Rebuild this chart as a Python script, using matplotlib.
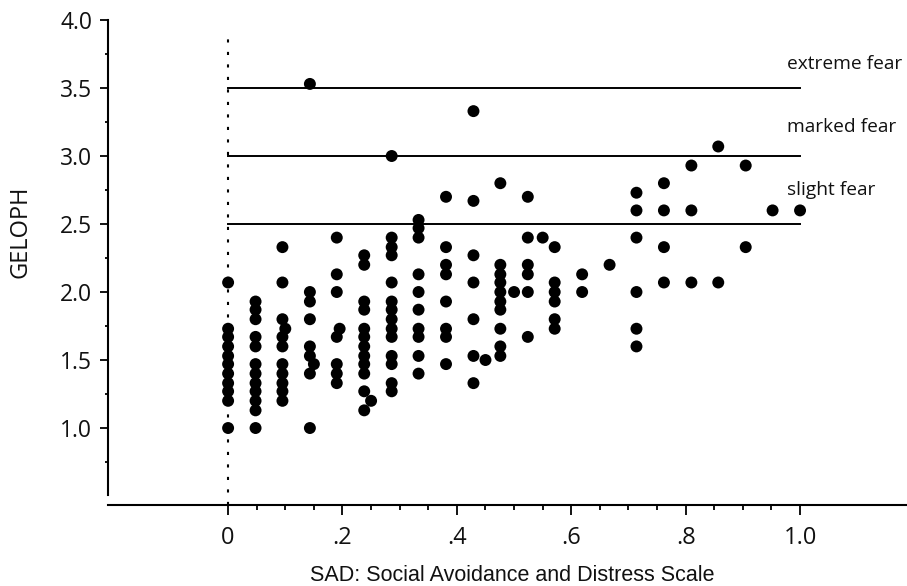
import matplotlib.pyplot as plt
import numpy as np
from matplotlib.ticker import FixedLocator

# SAD score levels (x) and the GELOPH scores found at each level (y)
sad_levels = [0.0, 0.048, 0.095, 0.143, 0.19, 0.238, 0.286, 0.333, 0.381, 0.429, 0.476,
              0.524, 0.571, 0.619, 0.667, 0.714, 0.762, 0.81, 0.857, 0.905, 0.952, 1.0]
geloph_at_level = [
    [2.07, 1.73, 1.67, 1.6, 1.53, 1.47, 1.4, 1.33, 1.27, 1.2, 1.0],
    [1.93, 1.87, 1.8, 1.67, 1.6, 1.47, 1.4, 1.33, 1.27, 1.2, 1.13, 1.0],
    [2.33, 2.07, 1.8, 1.67, 1.6, 1.47, 1.4, 1.33, 1.27, 1.2],
    [3.53, 2.0, 1.93, 1.8, 1.6, 1.53, 1.4, 1.0],
    [2.4, 2.13, 2.0, 1.67, 1.47, 1.4, 1.33],
    [2.27, 2.2, 1.93, 1.87, 1.73, 1.67, 1.6, 1.53, 1.47, 1.4, 1.27, 1.13],
    [3.0, 2.4, 2.33, 2.27, 2.07, 1.93, 1.87, 1.8, 1.73, 1.67, 1.53, 1.47, 1.33, 1.27],
    [2.53, 2.47, 2.4, 2.13, 2.0, 1.87, 1.73, 1.67, 1.53, 1.4],
    [2.7, 2.33, 2.2, 2.13, 1.93, 1.73, 1.67, 1.47],
    [3.33, 2.67, 2.27, 2.07, 1.8, 1.53, 1.33],
    [2.8, 2.2, 2.13, 2.07, 2.0, 1.93, 1.87, 1.73, 1.6, 1.53],
    [2.7, 2.4, 2.2, 2.13, 2.0, 1.67],
    [2.33, 2.07, 2.0, 1.93, 1.8, 1.73],
    [2.13, 2.0],
    [2.2],
    [2.73, 2.6, 2.4, 2.0, 1.73, 1.6],
    [2.8, 2.6, 2.33, 2.07],
    [2.93, 2.6, 2.07],
    [3.07, 2.07],
    [2.93, 2.33],
    [2.6],
    [2.6],
]
# a few points that sit between the regular levels
sad_extra = [0.1, 0.15, 0.195, 0.25, 0.45, 0.5, 0.55]
geloph_extra = [1.73, 1.47, 1.73, 1.2, 1.5, 2.0, 2.4]

fear_levels = [2.5, 3.0, 3.5]
fear_labels = ["slight fear", "marked fear", "extreme fear"]

xs = []
ys = []
for s, vals in zip(sad_levels, geloph_at_level):
    for v in vals:
        xs.append(s)
        ys.append(v)
xs += sad_extra
ys += geloph_extra

tick_font = ["Open Sans", "DejaVu Sans"]
plt.rcParams["font.family"] = ["Liberation Sans", "DejaVu Sans"]

W, H = 907, 586
fig = plt.figure(figsize=(W / 100, H / 100), dpi=100)
# axes box in pixels: left 108, right 907, top 20, bottom 505
ax = fig.add_axes([108 / W, (H - 505) / H, (907 - 108) / W, (505 - 20) / H])
ax.set_xlim(-0.21, 1.187)
ax.set_ylim(0.434, 4.0)

# reference lines
ax.plot([0, 0], [0.434, 3.93], color="black", lw=1.5, dashes=(1.5, 4.5), zorder=1)
label_y = [2.713, 3.176, 3.64]
for lvl, lab, ty in zip(fear_levels, fear_labels, label_y):
    ax.plot([0, 1.0], [lvl, lvl], color="black", lw=1.4, zorder=1)
    ax.text(0.977, ty, lab, fontsize=13.8, ha="left", va="baseline",
            family=tick_font, color="#111111")

ax.scatter(xs, ys, s=74, color="black", edgecolors="none", zorder=3)

for side in ["top", "right"]:
    ax.spines[side].set_visible(False)
ax.spines["left"].set_bounds(0.507, 4.0)
ax.spines["left"].set_linewidth(1.5)
ax.spines["bottom"].set_linewidth(1.5)

ax.set_yticks(np.arange(1.0, 4.01, 0.5))
ax.set_yticklabels(["1.0", "1.5", "2.0", "2.5", "3.0", "3.5", "4.0"])
ax.yaxis.set_minor_locator(FixedLocator(np.arange(0.75, 4.0, 0.5)))
ax.set_xticks([0, 0.2, 0.4, 0.6, 0.8, 1.0])
ax.set_xticklabels(["0", ".2", ".4", ".6", ".8", "1.0"])
minor_x = [t for t in np.round(np.arange(0.05, 1.0, 0.05), 2) if round(t * 10, 6) % 2 != 0]
ax.xaxis.set_minor_locator(FixedLocator(minor_x))
ax.tick_params(axis="y", which="major", length=5.5, width=1.3, pad=6, labelsize=16.5)
ax.tick_params(axis="y", which="minor", length=2.5, width=1.3)
ax.tick_params(axis="x", which="major", length=7, width=1.3, pad=8, labelsize=17)
ax.tick_params(axis="x", which="minor", length=3.6, width=1.3)
for lbl in ax.get_xticklabels() + ax.get_yticklabels():
    lbl.set_family(tick_font)
    lbl.set_color("#111111")

fig.text(21 / W, 1 - 232 / H, "GELOPH", rotation=90, ha="center", va="center",
         fontsize=17, family=tick_font, color="#111111")
fig.text(512 / W, 5 / H, "SAD: Social Avoidance and Distress Scale", ha="center",
         va="baseline", fontsize=15.5, color="#111111")

fig.savefig("out.png", dpi=100)
